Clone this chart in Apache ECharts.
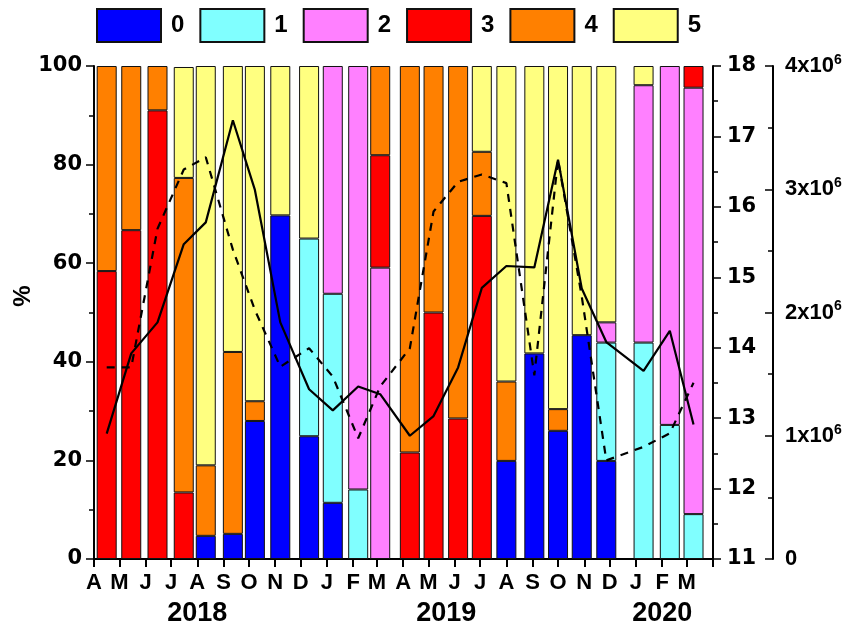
<!DOCTYPE html>
<html><head><meta charset="utf-8">
<script src="https://cdn.jsdelivr.net/npm/echarts@6/dist/echarts.min.js"></script>
<style>html,body{margin:0;padding:0;background:#fff}#c{width:850px;height:631px}</style>
</head><body><div id="c"></div>
<script>
// month initials for tick labels (index = month number 0..11)
const monthLetters = ['J','F','M','A','M','J','J','A','S','O','N','D'];
const years = ['2018','2019','2020'];
const yearPos = ['2018-08-01','2019-05-22','2020-02-01'];
// sampling dates
const sampleDates = ['2018-04-16','2018-05-15','2018-06-15','2018-07-16','2018-08-11','2018-09-12','2018-10-08','2018-11-07','2018-12-11',
  '2019-01-08','2019-02-07','2019-03-05','2019-04-09','2019-05-07','2019-06-05','2019-07-03','2019-08-01','2019-09-03','2019-10-01',
  '2019-10-29','2019-11-27','2020-01-10','2020-02-10','2020-03-09'];
// class shares (%)
const class0 = [null,null,null,null,4.7,5.1,28.0,69.7,24.9,11.4,null,null,null,null,null,null,19.9,41.7,26.0,45.4,19.9,null,null,null];
const class1 = [null,null,null,null,null,null,null,null,40.1,42.4,14.1,null,null,null,null,null,null,null,null,null,24.0,43.9,27.2,9.1];
const class2 = [null,null,null,null,null,null,null,null,null,46.2,85.9,59.1,null,null,null,null,null,null,null,null,4.1,52.2,72.8,86.5];
const class3 = [58.4,66.7,91.0,13.5,null,null,null,null,null,null,null,22.8,21.6,50.0,28.5,69.6,null,null,null,null,null,null,null,4.4];
const class4 = [41.6,33.3,9.0,63.8,14.3,36.9,4.0,null,null,null,null,18.1,78.4,50.0,71.5,13.0,16.1,null,4.4,null,null,null,null,null];
const class5 = [null,null,null,22.5,81.0,58.0,68.0,30.3,35.0,null,null,null,null,null,null,17.4,64.0,58.3,69.6,54.6,52.0,3.9,null,null];
// solid line (right axis 11-18)
const solidLine = [12.78,13.92,14.36,15.47,15.78,17.23,16.24,14.36,13.41,13.11,13.45,13.34,12.75,13.03,13.72,14.85,15.16,15.14,16.67,14.84,14.08,13.67,14.24,12.91];
// dashed line (outer right axis, in units of 10^6)
const dashedLine = [1.555,1.555,2.68,3.16,3.26,2.51,2.02,1.56,1.71,1.48,0.98,1.40,1.71,2.82,3.06,3.12,3.05,1.49,3.24,2.13,0.80,0.91,1.02,1.43];

const names = ['0','1','2','3','4','5'];
const colors = ['#0000FF','#80FFFF','#FF80FF','#FF0000','#FF8000','#FFFF80'];
const classes = [class0,class1,class2,class3,class4,class5];
const FONT = '"Liberation Sans", Arial, sans-serif';
const WFONT = '"DejaVu Sans", "Liberation Sans", sans-serif';
const xMin = new Date(2018,3,1).getTime();
const xMax = new Date(2020,3,1).getTime();
const DAY = 86400000;
const GRID = {left:94, right:137, top:66, bottom:72};
const BAR_W = 20;
// ECharts widens a time axis holding bars by half a bar on each side; pre-compensate
const axisLen = 850 - GRID.left - GRID.right;
const pad = (BAR_W/2) * (xMax - xMin) / axisLen;

const chart = echarts.init(document.getElementById('c'), null, {renderer:'canvas'});

const barSeries = classes.map((arr,k)=>({
  name: names[k], type:'bar', stack:'pct', barWidth: BAR_W, xAxisIndex:0, yAxisIndex:0,
  itemStyle:{color: colors[k], borderColor:'#111', borderWidth:1},
  data: arr.map((v,i)=>[sampleDates[i], v==null ? '-' : v]), z:2
}));

const axisLbl = {color:'#000', fontSize:22, fontWeight:'bold', fontFamily:FONT};
const wideLbl = {color:'#000', fontSize:21, fontWeight:'bold', fontFamily:WFONT};

chart.setOption({
  animation:false,
  grid:GRID,
  legend:{
    data:names, left:96, top:8, padding:0, itemWidth:64, itemHeight:33, itemGap:15,
    icon:'rect',
    textStyle:{color:'#000', fontSize:24, fontWeight:'bold', fontFamily:FONT, padding:[0,0,0,5]}
  },
  xAxis:{
    type:'time', min:xMin + pad, max:xMax - pad, minInterval:28*DAY, maxInterval:31*DAY,
    axisLine:{show:true, lineStyle:{color:'#000', width:2}},
    axisTick:{show:true, length:8, lineStyle:{color:'#000', width:2}},
    axisLabel:Object.assign({margin:13, interval:0, hideOverlap:false, showMinLabel:true, showMaxLabel:true,
      formatter:(v)=> (v >= xMax - 5*DAY) ? '' : monthLetters[new Date(v + 5*DAY).getMonth()]}, axisLbl),
    splitLine:{show:false}
  },
  yAxis:[
    {type:'value', min:0, max:100, interval:20, position:'left',
     axisLine:{show:true, lineStyle:{color:'#000', width:2}},
     axisTick:{show:true, length:8, lineStyle:{color:'#000', width:1.5}},
     minorTick:{show:true, splitNumber:2, length:5, lineStyle:{color:'#000', width:1.5}},
     axisLabel:Object.assign({margin:12}, wideLbl), splitLine:{show:false}},
    {type:'value', min:11, max:18, interval:1, position:'right', offset:0,
     axisLine:{show:true, lineStyle:{color:'#000', width:2}},
     axisTick:{show:true, length:8, lineStyle:{color:'#000', width:1.5}},
     minorTick:{show:true, splitNumber:2, length:5, lineStyle:{color:'#000', width:1.5}},
     axisLabel:Object.assign({margin:14}, wideLbl), splitLine:{show:false}},
    {type:'value', min:0, max:4, interval:1, position:'right', offset:60,
     axisLine:{show:true, lineStyle:{color:'#000', width:2}},
     axisTick:{show:true, inside:true, length:8, lineStyle:{color:'#000', width:1.5}},
     minorTick:{show:true, splitNumber:2, length:5, lineStyle:{color:'#000', width:1.5}},
     axisLabel:Object.assign({margin:12,
       formatter:(v)=> v===0 ? '{b|0}' : '{b|'+v+'x10}{s|6}',
       rich:{b:{fontSize:22, fontWeight:'bold', fontFamily:FONT, color:'#000'},
             s:{fontSize:14, fontWeight:'bold', fontFamily:FONT, color:'#000', padding:[0,0,12,0]}}}, axisLbl),
     splitLine:{show:false}}
  ],
  series: barSeries.concat([
    {name:'solid', type:'line', xAxisIndex:0, yAxisIndex:1, symbol:'none', z:5,
     lineStyle:{color:'#000', width:2.2}, data: sampleDates.map((x,i)=>[x, solidLine[i]])},
    {name:'dashed', type:'line', xAxisIndex:0, yAxisIndex:2, symbol:'none', z:5,
     lineStyle:{color:'#000', width:2.2, type:[8,7]}, data: sampleDates.map((x,i)=>[x, dashedLine[i]])}
  ])
});

const g = [{type:'text', x:23, y:296, rotation:Math.PI/2,
  style:{text:'%', font:'bold 24px '+FONT, fill:'#000', align:'center', verticalAlign:'middle'}}];
years.forEach((t,i)=>{
  const px = chart.convertToPixel({xAxisIndex:0}, yearPos[i]);
  g.push({type:'text', x:px, y:614,
    style:{text:t, font:'bold 27px '+FONT, fill:'#000', align:'center', verticalAlign:'middle'}});
});
chart.setOption({graphic:g});
</script></body></html>
